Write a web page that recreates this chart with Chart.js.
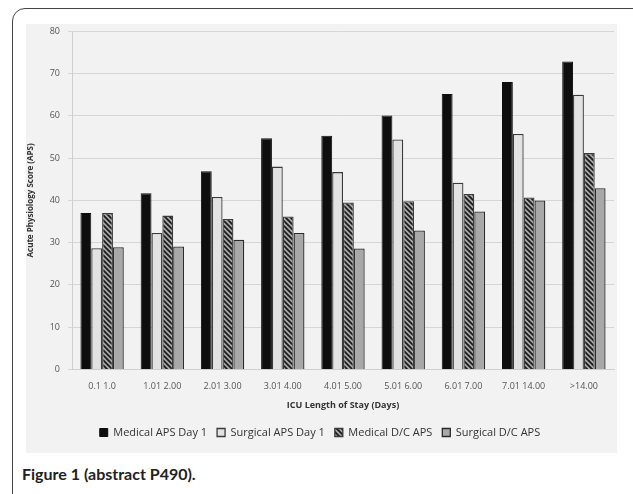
<!DOCTYPE html>
<html>
<head>
<meta charset="utf-8">
<script src="https://cdn.jsdelivr.net/npm/chart.js@4"></script>
<style>
  html, body { margin:0; padding:0; background:#fff; width:633px; height:494px; overflow:hidden; }
  #frame { position:absolute; left:12px; top:8px; width:640px; height:520px; border:1.5px solid #444; border-radius:13px; box-sizing:border-box; }
  #wrap { position:absolute; left:26px; top:24px; width:591px; height:429px; background:#f2f2f2; overflow:hidden; }
  #c { position:absolute; left:0; top:-6px; }
  #caption { position:absolute; left:22px; top:464px; font-family:Lato, sans-serif; font-weight:700; font-size:16px; color:#222; }
</style>
</head>
<body>
<div id="frame"></div>
<div id="wrap"><canvas id="c" width="591" height="434"></canvas></div>
<div id="caption">Figure 1 (abstract P490).</div>
<script>
const categories = ["0.1 1.0","1.01 2.00","2.01 3.00","3.01 4.00","4.01 5.00","5.01 6.00","6.01 7.00","7.01 14.00",">14.00"];
const medicalDay1 = [37.0, 41.7, 46.9, 54.7, 55.3, 60.1, 65.2, 68.0, 72.9];
const surgicalDay1 = [28.7, 32.3, 40.8, 48.0, 46.7, 54.4, 44.2, 55.7, 65.0];
const medicalDC = [37.0, 36.4, 35.6, 36.2, 39.5, 39.8, 41.5, 40.7, 51.2];
const surgicalDC = [28.9, 29.1, 30.7, 32.3, 28.6, 32.9, 37.4, 40.0, 42.9];
const yTicks = [0,10,20,30,40,50,60,70,80];

function hatch() {
  const p = document.createElement('canvas');
  p.width = 5; p.height = 5;
  const g = p.getContext('2d');
  g.fillStyle = '#a8a8a8';
  g.fillRect(0,0,5,5);
  g.strokeStyle = '#1a1a1a';
  g.lineWidth = 1.7;
  g.beginPath();
  g.moveTo(-1,-1); g.lineTo(6,6);
  g.moveTo(-1,4); g.lineTo(1,6);
  g.moveTo(4,-1); g.lineTo(6,1);
  g.stroke();
  return g.createPattern(p,'repeat');
}
const ctx = document.getElementById('c').getContext('2d');
const hatchPat = hatch();

new Chart(ctx, {
  type: 'bar',
  data: {
    labels: categories,
    datasets: [
      { label:'Medical APS Day 1', data: medicalDay1, backgroundColor:'#0e0e0e', borderColor:'#0e0e0e', borderWidth:1 },
      { label:'Surgical APS Day 1', data: surgicalDay1, backgroundColor:'#e2e2e2', borderColor:'#3a3a3a', borderWidth:1.3 },
      { label:'Medical D/C APS', data: medicalDC, backgroundColor: hatchPat, borderColor:'#3a3a3a', borderWidth:1.3 },
      { label:'Surgical D/C APS', data: surgicalDC, backgroundColor:'#a8a8a8', borderColor:'#2a2a2a', borderWidth:1.3 }
    ]
  },
  options: {
    responsive:false,
    animation:false,
    devicePixelRatio:1,
    layout: { padding: { top: 2, right: 3, left: 0, bottom: 4 } },
    datasets: { bar: { categoryPercentage: 0.72, barPercentage: 1.0 } },
    plugins: {
      tooltip: { enabled:false },
      legend: {
        position:'bottom',
        labels: { boxWidth:8, boxHeight:8, padding:10, color:'#333', font:{ family:'"Open Sans", sans-serif', size:11 } }
      }
    },
    scales: {
      x: {
        grid: { display:false },
        border: { color:'#cfcfcf' },
        ticks: { color:'#555', font:{ family:'"Open Sans", sans-serif', size:9 }, maxRotation:0, padding:4 },
        title: { display:true, text:'ICU Length of Stay (Days)', color:'#333', font:{ family:'"Open Sans", sans-serif', size:9, weight:'bold' }, padding:{ top:4, bottom:6 } }
      },
      y: {
        min:0, max:80,
        afterBuildTicks: s => { s.ticks = yTicks.map(v => ({ value:v })); },
        afterFit: s => { s.width = 46; },
        grid: { color:'#d6d6d6', drawTicks:true, tickLength:4 },
        border: { color:'#cfcfcf' },
        ticks: { color:'#555', font:{ family:'"Open Sans", sans-serif', size:9 }, padding:8 },
        title: { display:true, text:'Acute Physiology Score (APS)', color:'#333', font:{ family:'"Open Sans", sans-serif', size:8, weight:'bold' }, padding:{ top:0, bottom:2 } }
      }
    }
  }
});
</script>
</body>
</html>
